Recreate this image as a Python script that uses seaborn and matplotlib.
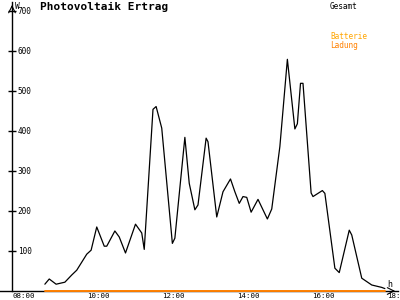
import matplotlib
matplotlib.use("Agg")
import matplotlib.pyplot as plt
import matplotlib.transforms as mtransforms
import seaborn as sns
import pandas as pd

# ---- data ----
times = ["08:47", "08:54", "09:05", "09:19", "09:30", "09:38", "09:46", "09:54",
         "10:01", "10:10", "10:22", "10:26", "10:39", "10:46", "10:56", "11:12",
         "11:22", "11:26", "11:40", "11:45", "11:54", "12:11", "12:15", "12:31",
         "12:38", "12:47", "12:52", "13:05", "13:08", "13:22", "13:32", "13:44",
         "13:51", "13:58", "14:04", "14:10", "14:17", "14:28", "14:43", "14:50",
         "15:03", "15:15", "15:27", "15:31", "15:36", "15:40", "15:53", "15:56",
         "16:11", "16:15", "16:31", "16:38", "16:54", "16:58", "17:14", "17:30",
         "17:46", "17:51"]
gesamt = [17, 30, 17, 22, 40, 52, 72, 92,
          102, 160, 112, 112, 150, 135, 95, 167,
          145, 104, 454, 461, 407, 119, 132, 384,
          269, 203, 215, 382, 373, 185, 248, 280,
          248, 219, 236, 234, 197, 229, 180, 205,
          361, 579, 405, 418, 519, 519, 245, 236,
          251, 244, 57, 46, 152, 140, 32, 15,
          9, 6]
battery_times = ["08:47", "17:51"]
battery_values = [0, 0]

y_ticks = [100, 200, 300, 400, 500, 600, 700]
x_ticks = [8, 10, 12, 14, 16, 18]
x_labels = ["08:00", "10:00", "12:00", "14:00", "16:00", "18:00"]
title = "Photovoltaik Ertrag"
legend_items = [("Gesamt", "black"), ("Batterie", "#FFA500"), ("Ladung", "#FF8000")]


def to_hours(t):
    h, m = t.split(":")
    return int(h) + int(m) / 60.0


df = pd.DataFrame({"h": [to_hours(t) for t in times], "W": gesamt})
dfb = pd.DataFrame({"h": [to_hours(t) for t in battery_times], "W": battery_values})

sns.set_theme(style="white")
plt.rcParams["font.family"] = ["DejaVu Sans Mono", "DejaVu Sans"]

fig = plt.figure(figsize=(4, 3), dpi=100)
ax = fig.add_axes([0.0, 0.03, 0.995, 0.963])

sns.lineplot(data=df, x="h", y="W", ax=ax, color="black", linewidth=0.9, zorder=4)
sns.lineplot(data=dfb, x="h", y="W", ax=ax, color="#FF8000", linewidth=1.4,
             zorder=5, clip_on=False)

ax.set_xlim(7.587, 18.20)
ax.set_ylim(0, 722)
ax.set_xlabel("")
ax.set_ylabel("")

for s in ["top", "left"]:
    ax.spines[s].set_visible(False)
ax.spines["right"].set_position(("data", 7.907))
ax.spines["bottom"].set_position(("data", 0))
for s in ["right", "bottom"]:
    ax.spines[s].set_color("black")
    ax.spines[s].set_linewidth(1.0)

ax.yaxis.tick_right()
ax.set_yticks(y_ticks)
ax.set_yticklabels([str(v) for v in y_ticks])
ax.tick_params(axis="y", direction="inout", length=6, width=1, color="black",
               labelsize=5.6, pad=1, labelcolor="black")

ax.set_xticks(x_ticks)
ax.set_xticklabels(x_labels)
ax.tick_params(axis="x", direction="inout", length=6, width=1, color="black",
               labelsize=5.4, pad=-1.5, labelcolor="black")
offset = mtransforms.ScaledTranslation(-3 / 100, 0, fig.dpi_scale_trans)
for lab in ax.get_xticklabels():
    lab.set_horizontalalignment("left")
    lab.set_transform(lab.get_transform() + offset)

# axis arrows and units
ax.annotate("", xy=(1.0, 0), xycoords=("axes fraction", "data"),
            xytext=(-6, 0), textcoords="offset points",
            arrowprops=dict(arrowstyle="->", color="black", lw=0.8))
ax.annotate("", xy=(7.907, 1.0), xycoords=("data", "axes fraction"),
            xytext=(0, -6), textcoords="offset points",
            arrowprops=dict(arrowstyle="->", color="black", lw=0.8))
ax.text(8.0, 1.0, "W", transform=mtransforms.blended_transform_factory(ax.transData, ax.transAxes),
        fontsize=5.6, ha="left", va="top", color="black")
ax.text(17.97, 6, "h", fontsize=6, ha="center", va="bottom", color="black")

fig.text(40 / 400, 1 - 2 / 300, title, fontsize=8, fontweight="bold",
         ha="left", va="top", color="black")

leg_y = [2, 32, 41]
for (txt, col), yy in zip(legend_items, leg_y):
    fig.text(330 / 400, 1 - yy / 300, txt, fontsize=5.6, ha="left", va="top", color=col)

fig.savefig("out.png", dpi=100)
